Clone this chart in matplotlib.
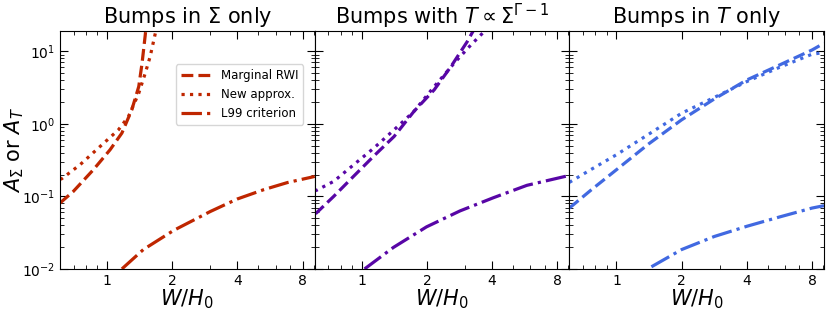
"""Bump amplitudes vs width, three bump types"""
import matplotlib
matplotlib.use('Agg')
import matplotlib.pyplot as plt
from matplotlib.ticker import FixedLocator, FixedFormatter, NullFormatter

titles = [r'Bumps in $\Sigma$ only',
          r'Bumps with $T \propto \Sigma^{\Gamma-1}$',
          r'Bumps in $T$ only']
colors = ['#bf2600', '#5806a6', '#4169e1']
labels = ['Marginal RWI', 'New approx.', 'L99 criterion']
xticks = [1, 2, 4, 8]

# panel 1: bumps in Sigma only
rwi1_x = [0.606, 0.698, 0.864, 1.032, 1.17, 1.30, 1.40, 1.45, 1.50, 1.52]
rwi1_y = [0.081, 0.117, 0.233, 0.439, 0.745, 1.56, 3.26, 6.84, 16.7, 25.0]
new1_x = [0.606, 0.617, 0.75, 0.928, 1.128, 1.255, 1.40, 1.50, 1.58, 1.67, 1.69]
new1_y = [0.172, 0.175, 0.273, 0.487, 0.827, 1.26, 2.64, 4.98, 8.43, 17.7, 22.0]
l99_1_x = [1.17, 1.47, 2.03, 3.0, 3.99, 5.3, 6.8, 8.87, 9.09]
l99_1_y = [0.01, 0.0185, 0.034, 0.062, 0.092, 0.124, 0.155, 0.185, 0.189]

# panel 2: bumps with T ~ Sigma^(Gamma-1)
rwi2_x = [0.606, 0.617, 0.742, 0.918, 1.137, 1.41, 1.74, 2.16, 2.58, 3.07, 3.19, 3.3]
rwi2_y = [0.058, 0.059, 0.1, 0.19, 0.36, 0.669, 1.48, 2.94, 6.14, 13.6, 16.7, 20.0]
new2_x = [0.606, 0.617, 0.742, 0.918, 1.137, 1.41, 1.74, 2.16, 2.67, 3.19, 3.61, 3.75]
new2_y = [0.12, 0.121, 0.161, 0.273, 0.463, 0.827, 1.48, 3.26, 6.84, 12.2, 17.7, 20.0]
l99_2_x = [1.03, 1.40, 1.99, 2.84, 4.06, 5.79, 9.0, 9.09]
l99_2_y = [0.01, 0.0198, 0.038, 0.063, 0.096, 0.142, 0.193, 0.194]

# panel 3: bumps in T only
rwi3_x = [0.606, 0.76, 1.0, 1.41, 2.0, 2.83, 4.0, 5.66, 8.0, 9.09]
rwi3_y = [0.069, 0.121, 0.233, 0.53, 1.135, 2.2, 4.02, 6.46, 10.4, 12.9]
new3_x = [0.606, 0.76, 1.0, 1.41, 2.0, 2.83, 4.0, 5.66, 8.0, 9.09]
new3_y = [0.156, 0.233, 0.375, 0.72, 1.40, 2.31, 3.82, 6.0, 9.1, 9.6]
l99_3_x = [1.45, 2.0, 2.83, 4.0, 5.66, 8.0, 9.09]
l99_3_y = [0.0107, 0.0185, 0.028, 0.0387, 0.052, 0.069, 0.0745]

panels = [
    [(rwi1_x, rwi1_y), (new1_x, new1_y), (l99_1_x, l99_1_y)],
    [(rwi2_x, rwi2_y), (new2_x, new2_y), (l99_2_x, l99_2_y)],
    [(rwi3_x, rwi3_y), (new3_x, new3_y), (l99_3_x, l99_3_y)],
]
styles = ['--', ':', '-.']
title_pads = [6, 3.8, 6]

fig, axes = plt.subplots(1, 3, figsize=(8.3, 3.12), dpi=100, sharey=True)
fig.subplots_adjust(left=0.0723, right=0.9928, top=0.9006, bottom=0.138,
                    wspace=0)

for i, ax in enumerate(axes):
    for (xs, ys), ls, lab in zip(panels[i], styles, labels):
        ax.plot(xs, ys, ls=ls, color=colors[i], lw=2.3, label=lab)
    ax.set_xscale('log')
    ax.set_yscale('log')
    ax.set_xlim(0.606, 9.09)
    ax.set_ylim(0.01, 19)
    ax.xaxis.set_major_locator(FixedLocator(xticks))
    ax.xaxis.set_major_formatter(FixedFormatter([str(t) for t in xticks]))
    ax.xaxis.set_minor_formatter(NullFormatter())
    ax.tick_params(which='both', direction='in', top=True, right=True,
                   labelsize=10)
    ax.tick_params(which='major', length=6)
    ax.tick_params(which='minor', length=3)
    ax.set_title(titles[i], fontsize=15, pad=title_pads[i])
    ax.set_xlabel(r'$W/H_0$', fontsize=15, labelpad=0)

axes[0].set_ylabel(r'$A_\Sigma$ or $A_T$', fontsize=15)
axes[0].yaxis.set_label_coords(-0.135, 0.5)
axes[0].legend(loc='upper right', bbox_to_anchor=(0.955, 0.86), fontsize=8.5,
               handlelength=2.6, borderaxespad=0)

fig.savefig('out.png', dpi=100)
